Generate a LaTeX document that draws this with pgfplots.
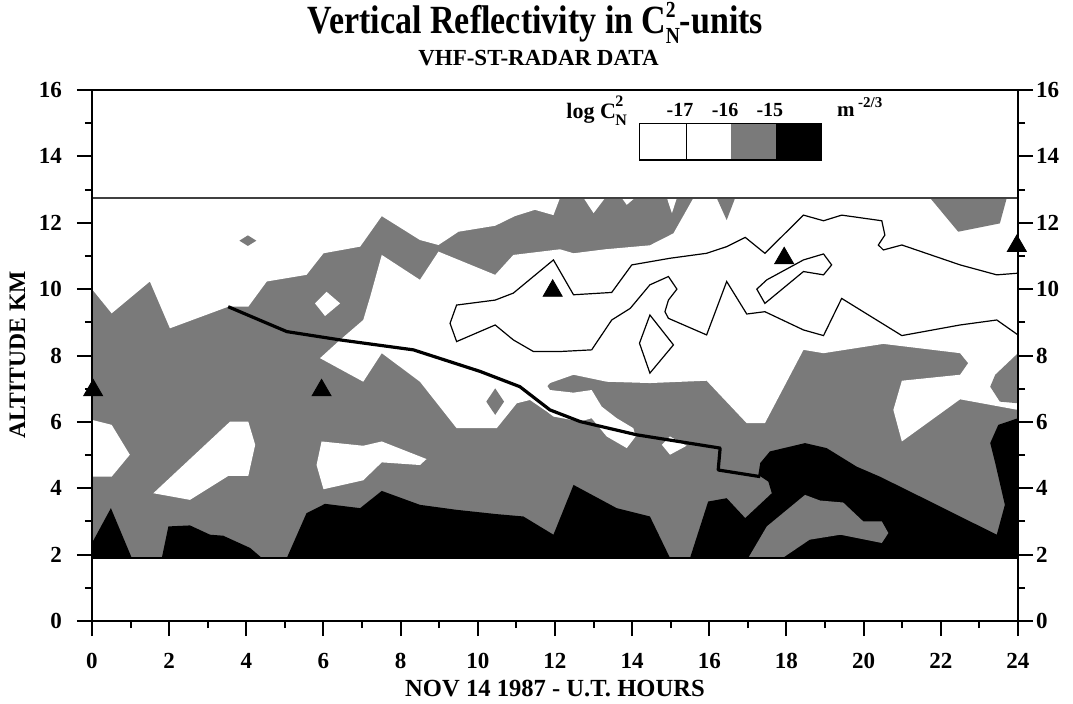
\documentclass[border=0pt]{standalone}
\usepackage{graphicx}
\usepackage{fontspec}
\setmainfont{Liberation Serif}
\usepackage{pgfplots}
\pgfplotsset{compat=1.18}
\definecolor{cgrey}{gray}{0.48}
\newcommand{\CN}[3]{C\kern-0.02em\rlap{\raisebox{#2}{\fontsize{#1}{#1}\selectfont 2}}\raisebox{-#3}{\fontsize{#1}{#1}\selectfont N}}

\begin{document}
\begin{tikzpicture}
\pgfplotsset{
  radarbase/.style={
    at={(46pt,41pt)}, anchor=south west,
    width=463pt, height=265.5pt, scale only axis,
    xmin=0, xmax=24, ymin=0, ymax=16,
    xtick={0,2,...,24}, ytick={0,2,...,16},
    minor xtick={1,3,...,23}, minor ytick={1,3,...,15},
    tick align=outside,
    major tick length=7.5pt, minor tick length=3.5pt,
    tick style={black, line width=1pt},
    axis line style={line width=1.2pt},
    ticklabel style={font=\fontsize{11.5}{13}\selectfont\bfseries},
    /pgf/number format/assume math mode=true,
  }
}
\begin{axis}[radarbase, xtick pos=left, ytick pos=left, clip=false, axis on top,
  xticklabel style={yshift=-5pt}, yticklabel style={xshift=-4pt}]
% grey band
\addplot[draw=none, fill=cgrey] coordinates {(0,1.9) (24,1.9) (24,12.75) (0,12.75)} -- cycle;
% upper-left white
\addplot[draw=none, fill=white] coordinates {(0,12.75) (0,10.0) (0.51,9.27) (1.50,10.23) (2.02,8.82) (3.53,9.47) (4.05,9.47) (4.53,10.23) (5.56,10.43) (6.0,11.08) (6.95,11.28) (7.51,12.2) (8.50,11.48) (8.98,11.33) (9.50,11.73) (10.45,11.91) (10.96,12.2) (11.48,12.39) (11.96,12.23) (12.13,12.75)} -- cycle;
% main white region
\addplot[draw=none, fill=white] coordinates {(7.51,11.03) (7.21,9.77) (7.03,9.07) (6.43,8.47) (5.91,7.92) (7.03,7.21) (7.51,8.07) (8.50,7.21) (9.45,5.81) (10.49,5.81) (11.01,6.56) (11.35,6.66) (11.79,6.31) (11.96,6.16) (12.65,6.01) (12.95,6.11) (13.34,5.56) (13.86,5.21) (14.09,5.56) (14.03,5.81) (13.60,6.11) (13.21,6.46) (12.95,6.96) (12.48,6.88) (11.87,6.96) (11.80,7.08) (11.87,7.17) (12.48,7.42) (13.34,7.21) (14.46,7.17) (15.93,7.24) (16.97,5.96) (17.44,5.96) (18.44,8.17) (18.96,8.07) (20.51,8.35) (22.50,8.07) (22.71,7.77) (22.50,7.42) (20.99,7.24) (20.77,6.36) (20.99,5.41) (22.50,6.68) (24,6.36) (24,12.75) (15.59,12.75) (15.07,11.68) (14.46,11.32) (13.3,11.2) (12.48,11.08) (12.13,11.2) (10.92,11.03) (10.45,10.43) (8.98,11.13) (8.50,10.28)} -- cycle;
% white notches in top grey band
\addplot[draw=none, fill=white] coordinates {(12.74,12.75) (13.0,12.29) (13.30,12.75)} -- cycle;
\addplot[draw=none, fill=white] coordinates {(13.73,12.75) (13.86,12.54) (14.07,12.75)} -- cycle;
\addplot[draw=none, fill=white] coordinates {(14.90,12.75) (15.03,12.29) (15.16,12.75)} -- cycle;
% white holes in grey
\addplot[draw=none, fill=white] coordinates {(0,6.06) (0.51,5.91) (0.98,5.01) (0.51,4.35) (0,4.35)} -- cycle;
\addplot[draw=none, fill=white] coordinates {(1.59,3.85) (3.58,6.01) (4.05,6.01) (4.23,5.31) (4.05,4.37) (3.53,4.37) (2.54,3.65)} -- cycle;
\addplot[draw=none, fill=white] coordinates {(5.95,5.41) (7.03,5.28) (7.51,5.41) (8.67,4.88) (8.50,4.70) (7.51,4.78) (7.03,4.24) (6.0,3.97) (5.82,4.70)} -- cycle;
\addplot[draw=none, fill=white] coordinates {(6.08,9.92) (6.43,9.57) (6.04,9.19) (5.78,9.57)} -- cycle;
\addplot[draw=none, fill=white] coordinates {(14.98,5.56) (15.41,5.28) (14.98,5.01) (14.77,5.31)} -- cycle;
% grey islands
\addplot[draw=none, fill=cgrey] coordinates {(3.82,11.46) (4.04,11.62) (4.26,11.46) (4.04,11.30)} -- cycle;
\addplot[draw=none, fill=cgrey] coordinates {(10.22,6.61) (10.45,7.01) (10.68,6.61) (10.45,6.21)} -- cycle;
\addplot[draw=none, fill=cgrey] coordinates {(24,8.07) (23.41,7.42) (23.28,7.06) (23.53,6.61) (24,6.56)} -- cycle;
\addplot[draw=none, fill=cgrey] coordinates {(16.19,12.75) (16.45,12.08) (16.67,12.75)} -- cycle;
\addplot[draw=none, fill=cgrey] coordinates {(21.72,12.75) (22.45,11.73) (23.53,11.98) (23.71,12.75)} -- cycle;
% black regions
\addplot[draw=none, fill=black] coordinates {(0,1.9) (0,2.35) (0.49,3.40) (1.03,1.9)} -- cycle;
\addplot[draw=none, fill=black] coordinates {(1.81,1.9) (1.98,2.85) (2.54,2.88) (3.06,2.60) (3.40,2.57) (4.10,2.20) (4.40,1.9)} -- cycle;
\addplot[draw=none, fill=black] coordinates {(5.05,1.9) (5.56,3.25) (6.04,3.53) (6.95,3.40) (7.51,3.92) (8.50,3.50) (9.45,3.35) (10.49,3.22) (11.18,3.15) (11.96,2.60) (12.48,4.10) (13.60,3.40) (14.46,3.15) (14.98,1.9)} -- cycle;
\addplot[draw=none, fill=black] coordinates {(15.50,1.9) (15.97,3.60) (16.45,3.70) (16.93,3.10) (17.62,3.85) (17.53,4.20) (17.27,4.40) (17.32,4.76) (17.57,5.11) (18.48,5.36) (19.04,5.21) (19.82,4.65) (20.42,4.35) (21.29,3.85) (23.45,2.60) (23.66,3.50) (23.41,4.76) (23.28,5.36) (23.49,5.91) (24,6.11) (24,1.9)} -- cycle;
\addplot[draw=none, fill=cgrey] coordinates {(17.01,1.9) (17.49,2.85) (18.48,3.80) (18.87,3.63) (19.47,3.57) (19.99,3.0) (20.47,3.0) (20.64,2.65) (20.47,2.35) (19.4,2.6) (18.6,2.45) (17.9,1.9)} -- cycle;
% contour lines
\addplot[black, line width=0.6pt] coordinates {(24,10.48) (23.45,10.43) (22.50,10.73) (20.99,11.33) (20.51,11.18) (20.38,11.33) (20.55,11.63) (20.47,12.06) (19.43,12.23) (18.96,12.06) (18.44,12.23) (17.44,11.08) (16.93,11.56) (16.45,11.28) (15.93,11.08) (14.98,10.93) (13.99,10.73) (13.47,9.90) (12.48,9.83) (11.96,10.88) (10.92,9.88) (10.45,9.67) (9.45,9.52) (9.28,8.97) (9.45,8.42) (10.45,8.92) (10.92,8.47) (11.44,8.12) (12.13,8.12) (12.95,8.17) (13.47,9.07) (13.95,9.42) (14.46,10.13) (14.94,10.38) (15.16,10.0) (14.94,9.67) (14.85,9.32) (14.94,9.12) (15.93,8.62) (16.45,10.23) (16.97,9.25) (17.44,9.32) (18.44,8.77) (18.96,8.60) (19.43,9.72) (20.99,8.60) (22.50,8.92) (23.45,9.07) (24,8.62)};
\addplot[black, line width=0.6pt] coordinates {(14.46,9.22) (15.07,8.32) (14.46,7.47) (14.19,8.37)} -- cycle;
\addplot[black, line width=0.6pt] coordinates {(17.23,10.0) (17.49,10.28) (18.44,10.88) (18.96,11.06) (19.17,10.73) (18.96,10.43) (18.44,10.53) (17.44,9.57)} -- cycle;
% boundary lines
\addplot[black!75, line width=0.9pt] coordinates {(0,12.75) (24,12.75)};
\addplot[black, line width=1pt] coordinates {(0,1.9) (24,1.9)};
% thick trajectory
\addplot[black, line width=1.6pt, line join=round] coordinates {(3.53,9.47) (4.44,9.02) (5.05,8.72) (6.43,8.47) (8.33,8.17) (10.06,7.52) (11.09,7.06) (11.87,6.36) (12.65,6.01) (14.12,5.61) (16.28,5.21) (16.23,4.55) (17.32,4.35)};
% triangles
\addplot[only marks, mark=triangle*, mark size=5.5pt, black] coordinates {(0.03,6.95) (5.95,6.95) (11.94,9.95) (17.94,10.93) (23.97,11.3)};
% legend
\addplot[draw=none, fill=cgrey] coordinates {(16.55,13.89) (17.73,13.89) (17.73,14.98) (16.55,14.98)} -- cycle;
\addplot[draw=none, fill=black] coordinates {(17.73,13.89) (18.91,13.89) (18.91,14.98) (17.73,14.98)} -- cycle;
\addplot[black, line width=0.6pt] coordinates {(14.20,13.89) (18.91,13.89) (18.91,14.98) (14.20,14.98)} -- cycle;
\addplot[black, line width=0.6pt] coordinates {(15.40,13.89) (15.40,14.98)};
\node[anchor=base east, font=\fontsize{11}{12}\selectfont\bfseries] at (axis cs:14.05,15.15) {log \CN{8}{0.55em}{0.33em}};
\node[anchor=base, font=\fontsize{10}{12}\selectfont\bfseries] at (axis cs:15.24,15.2) {-17};
\node[anchor=base, font=\fontsize{10}{12}\selectfont\bfseries] at (axis cs:16.41,15.2) {-16};
\node[anchor=base, font=\fontsize{10}{12}\selectfont\bfseries] at (axis cs:17.57,15.2) {-15};
\node[anchor=base west, font=\fontsize{10.5}{12}\selectfont\bfseries] at (axis cs:19.13,15.2) {m\,\raisebox{0.45em}{\fontsize{7.5}{8}\selectfont -2/3}};
\end{axis}
\begin{axis}[radarbase, axis x line=none, axis y line*=right, yticklabel style={xshift=-2pt}]
\end{axis}
\node[anchor=base, inner sep=0pt] at (267.75pt,334.5pt) {\scalebox{0.85}[1]{\fontsize{20}{24}\selectfont\bfseries Vertical Reflectivity in \CN{11.5}{0.4em}{0.24em}-units}};
\node[anchor=base, inner sep=0pt, font=\fontsize{11.5}{14}\selectfont\bfseries] at (269.25pt,318.5pt) {VHF-ST-RADAR DATA};
\node[anchor=base, font=\fontsize{12.3}{14}\selectfont\bfseries] at (277.5pt,3.2pt) {NOV 14 1987 - U.T. HOURS};
\node[anchor=base, rotate=90, font=\fontsize{11.8}{14}\selectfont\bfseries] at (12.5pt,174pt) {ALTITUDE KM};
\pgfresetboundingbox
\path[use as bounding box] (0,0) rectangle (536.5pt,351.5pt);
\end{tikzpicture}
\end{document}
